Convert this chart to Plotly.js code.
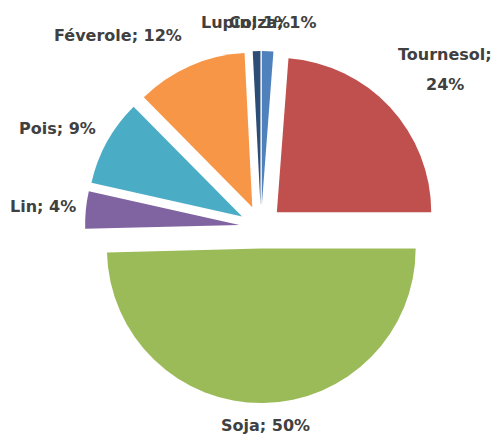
<!DOCTYPE html>
<html>
<head>
<meta charset="utf-8">
<script src="https://cdn.plot.ly/plotly-3.0.1.min.js"></script>
<style>
  body { margin: 0; background: #ffffff; }
  #chart { width: 494px; height: 434px; }
</style>
</head>
<body>
<div id="chart"></div>
<script>
// cultures and their share
const cultures = ["Colza", "Tournesol", "Soja", "Lin", "Pois", "Féverole", "Lupin"];
const parts = [1.2, 23.8, 49.6, 3.9, 9.1, 11.6, 0.8];
const couleurs = ["#4F81BD", "#C0504D", "#9BBB59", "#8064A2", "#4BACC6", "#F79646", "#2C4D75"];

// where each data label sits, in pixels of the 494x434 picture (centre of text)
const labelPos = [
    [272, 22], [445, 54], [265, 425], [43, 206], [57, 128], [118, 36], [245, 22]
];

const W = 494, H = 434;
const total = parts.reduce((a, b) => a + b, 0);

function note(text, px, py) {
    return {
        text: text,
        x: px / W, y: 1 - py / H,
        xref: 'paper', yref: 'paper',
        xanchor: 'center', yanchor: 'middle',
        showarrow: false,
        font: { family: 'DejaVu Sans, sans-serif', size: 16, color: '#404040', weight: 'bold' }
    };
}

var annotations = [];
cultures.forEach((c, i) => {
    const pct = Math.round(parts[i] / total * 100) + "%";
    if (c === "Tournesol") {
        // wrapped label, two lines far apart like the original
        annotations.push(note(c + ";", labelPos[i][0], labelPos[i][1]));
        annotations.push(note(pct, labelPos[i][0], labelPos[i][1] + 30));
    } else {
        annotations.push(note(c + "; " + pct, labelPos[i][0], labelPos[i][1]));
    }
});

var trace = {
    type: 'pie',
    labels: cultures,
    values: parts,
    sort: false,
    direction: 'clockwise',
    rotation: 0,
    pull: 0.14,
    marker: {
        colors: couleurs,
        line: { width: 0 }
    },
    textinfo: 'none',
    hoverinfo: 'none',
    domain: { x: [85 / W, 437 / W], y: [1 - 403 / H, 1 - 51 / H] },
    showlegend: false
};

var layout = {
    width: W,
    height: H,
    margin: { l: 0, r: 0, t: 0, b: 0 },
    paper_bgcolor: '#ffffff',
    plot_bgcolor: '#ffffff',
    showlegend: false,
    annotations: annotations
};

Plotly.newPlot('chart', [trace], layout, { staticPlot: true });
</script>
</body>
</html>
